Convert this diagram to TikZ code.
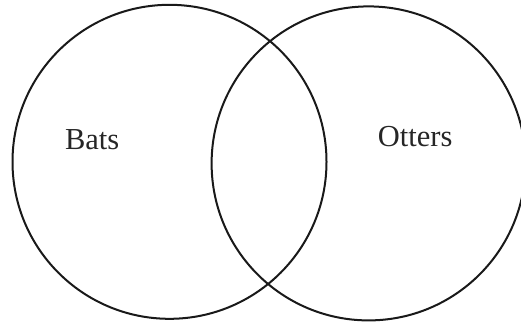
\documentclass[tikz,border=0pt]{standalone}
\usepackage{fontspec}
\setmainfont{Liberation Serif}
\begin{document}
\begin{tikzpicture}[x=1pt,y=-1pt,
  setcircle/.style={circle,draw=black!90,line width=2pt,inner sep=0pt,minimum size=314pt},
  setlabel/.style={anchor=base,inner sep=0pt,font=\fontsize{30.5}{36}\selectfont,text=black!85}]
\useasboundingbox (0,0) rectangle (521,322);
\node[setcircle] (bats) at (169.5,161.8) {};
\node[setcircle] (otters) at (368.6,163.4) {};
\node[setlabel] (batslabel) at (92.2,149.3) {Bats};
\node[setlabel] (otterslabel) at (415.2,146.7) {Otters};
\end{tikzpicture}
\end{document}
